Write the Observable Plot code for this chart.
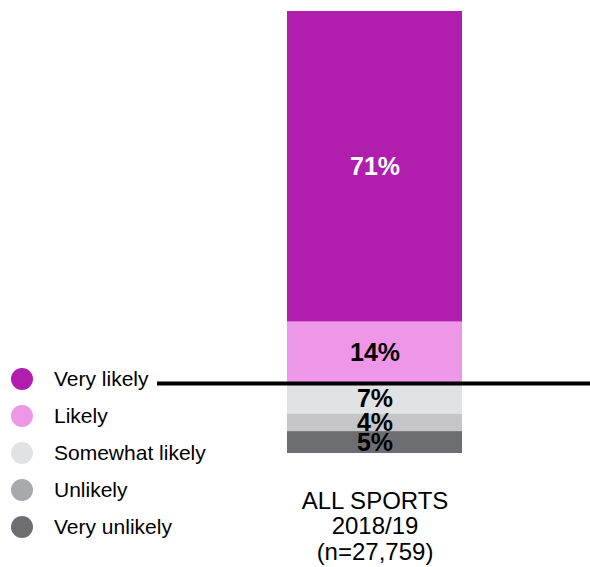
<!DOCTYPE html>
<html>
<head>
<meta charset="utf-8">
<script src="https://cdn.jsdelivr.net/npm/d3@7"></script>
<script src="https://cdn.jsdelivr.net/npm/@observablehq/plot@0.6"></script>
<style>
  html, body { margin: 0; padding: 0; background: #fff; }
  #wrap { position: relative; width: 590px; height: 567px; font-family: "Liberation Sans", Arial, sans-serif; }
  #chart { position: absolute; left: 0; top: 0; }
  #legend { position: absolute; left: 11px; top: 360.5px; }
  .item { display: flex; align-items: center; height: 37px; }
  .sw { width: 22px; height: 22px; border-radius: 50%; margin-right: 21px; flex: none; }
  .lab { font-size: 21px; color: #000; white-space: nowrap; }
</style>
</head>
<body>
<div id="wrap">
  <div id="chart"></div>
  <div id="legend"></div>
</div>
<script>
// ---- data ----
const categories = ["Very likely", "Likely", "Somewhat likely", "Unlikely", "Very unlikely"];
const shares = [71, 14, 7, 4, 5];
const side = [1, 1, -1, -1, -1]; // above or below the zero line
const barColors = ["#B11DAD", "#EE97E9", "#E1E2E3", "#C6C6C8", "#6D6E71"];
const legendColors = ["#B11DAD", "#EE97E9", "#E1E2E4", "#A8A9AC", "#6D6E71"];
const groupName = "ALL SPORTS";
const groupLabel = ["ALL SPORTS", "2018/19", "(n=27,759)"];
const stackOrder = ["Likely", "Very likely", "Somewhat likely", "Unlikely", "Very unlikely"];
const whiteLabel = "Very likely";

const rows = categories.map((c, i) => ({
  group: groupName,
  category: c,
  value: side[i] * shares[i],
  label: shares[i] + "%"
}));

const chart = Plot.plot({
  width: 590,
  height: 567,
  marginTop: 11,
  marginBottom: 114,
  marginLeft: 157,
  marginRight: 0,
  style: { fontFamily: "'Liberation Sans', Arial, sans-serif", background: "#fff" },
  x: { type: "band", domain: [groupName], paddingInner: 0, paddingOuter: 0.737, align: 0.504 },
  y: { domain: [-16, 85], axis: null },
  color: { domain: categories, range: barColors },
  marks: [
    Plot.barY(rows, Plot.stackY({ x: "group", y: "value", fill: "category", order: stackOrder })),
    Plot.text(rows, Plot.stackY({
      x: "group", y: "value", z: "category", order: stackOrder,
      text: d => d.category === whiteLabel ? d.label : null,
      fill: "#fff", fontSize: 25, fontWeight: "bold"
    })),
    Plot.text(rows, Plot.stackY({
      x: "group", y: "value", z: "category", order: stackOrder,
      text: d => d.category === whiteLabel ? null : d.label,
      fill: "#000", fontSize: 25, fontWeight: "bold"
    })),
    Plot.ruleY([0], { stroke: "#000", strokeWidth: 4 }),
    Plot.axisX({
      tickSize: 0, tickPadding: 37, fontSize: 24, lineHeight: 1.07,
      label: null, fill: "#000",
      tickFormat: () => groupLabel.join("\n")
    })
  ]
});
document.getElementById("chart").appendChild(chart);

const legend = document.getElementById("legend");
categories.forEach((c, i) => {
  const item = document.createElement("div");
  item.className = "item";
  const sw = document.createElement("span");
  sw.className = "sw";
  sw.style.background = legendColors[i];
  const lab = document.createElement("span");
  lab.className = "lab";
  lab.textContent = c;
  item.appendChild(sw);
  item.appendChild(lab);
  legend.appendChild(item);
});
</script>
</body>
</html>
